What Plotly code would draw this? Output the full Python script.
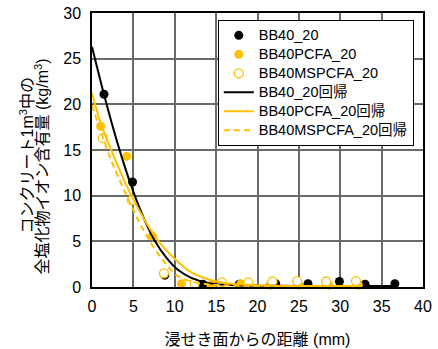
import plotly.graph_objects as go

# ---- data ----
bb40_x = [1.45, 4.9, 8.8, 13.4, 17.8, 22.2, 26.1, 29.9, 33.0, 36.6]
bb40_y = [21.1, 11.5, 1.3, 0.3, 0.3, 0.35, 0.35, 0.6, 0.3, 0.35]

pcfa_x = [1.05, 4.2, 7.3, 10.8, 14.4, 18.0, 21.5, 25.0, 28.6, 32.2]
pcfa_y = [17.6, 14.3, 5.6, 0.35, 0.2, 0.35, 0.2, 0.2, 0.2, 0.2]

mspcfa_x = [1.3, 4.8, 8.7, 12.4, 15.7, 18.9, 21.8, 24.8, 28.3, 31.9]
mspcfa_y = [16.3, 9.5, 1.5, 0.4, 0.5, 0.5, 0.6, 0.65, 0.6, 0.65]

# regression curves
bb40_fit_x = [0, 1.5, 3, 4.5, 6, 7.5, 9, 10.5, 12, 14, 16, 20, 25, 30, 36.6]
bb40_fit_y = [26.3, 20.9, 16.0, 11.7, 8.1, 5.2, 3.2, 1.8, 1.0, 0.45, 0.25, 0.15, 0.12, 0.12, 0.12]

pcfa_fit_x = [0, 1, 2.5, 4.6, 6, 7.4, 8.5, 10, 11.8, 14, 16, 18, 22, 27, 32.7]
pcfa_fit_y = [21.2, 18.1, 14.6, 10.3, 7.9, 5.8, 4.5, 3.1, 1.7, 0.85, 0.45, 0.28, 0.15, 0.12, 0.12]

mspcfa_fit_x = [0, 1.3, 2.7, 4.25, 5.6, 7.0, 8.5, 10.2, 12, 14, 17, 22, 27, 32.7]
mspcfa_fit_y = [19.9, 16.4, 13.0, 9.9, 7.3, 5.0, 3.0, 1.3, 0.6, 0.3, 0.15, 0.1, 0.1, 0.1]

names = ["BB40_20", "BB40PCFA_20", "BB40MSPCFA_20",
         "BB40_20回帰", "BB40PCFA_20回帰", "BB40MSPCFA_20回帰"]

x_ticks = [0, 5, 10, 15, 20, 25, 30, 35, 40]
y_ticks = [0, 5, 10, 15, 20, 25, 30]

BLACK = "#000000"
GOLD = "#FFC000"
FONT = "Liberation Sans, Arial, Noto Sans CJK JP, sans-serif"


def leg(name):
    return '<span style="font-size:14.5px">' + name + '</span>'


fig = go.Figure()

fig.add_trace(go.Scatter(x=bb40_x, y=bb40_y, mode="markers", name=leg(names[0]),
                         marker=dict(color=BLACK, size=9), cliponaxis=False))
fig.add_trace(go.Scatter(x=pcfa_x, y=pcfa_y, mode="markers", name=leg(names[1]),
                         marker=dict(color=GOLD, size=9), cliponaxis=False))
fig.add_trace(go.Scatter(x=mspcfa_x, y=mspcfa_y, mode="markers", name=leg(names[2]),
                         marker=dict(color="white", size=9, line=dict(color=GOLD, width=1.3)),
                         cliponaxis=False))
fig.add_trace(go.Scatter(x=bb40_fit_x, y=bb40_fit_y, mode="lines", name=leg(names[3]),
                         line=dict(color=BLACK, width=2, shape="spline", smoothing=0.8)))
fig.add_trace(go.Scatter(x=pcfa_fit_x, y=pcfa_fit_y, mode="lines", name=leg(names[4]),
                         line=dict(color=GOLD, width=2, shape="spline", smoothing=0.8)))
fig.add_trace(go.Scatter(x=mspcfa_fit_x, y=mspcfa_fit_y, mode="lines", name=leg(names[5]),
                         line=dict(color=GOLD, width=2, dash="6px,4px", shape="spline", smoothing=0.8)))

L, R, T, B = 92, 15, 13, 62
W, H = 438, 349
pw = W - L - R

fig.update_layout(
    width=W, height=H,
    margin=dict(l=L, r=R, t=T, b=B, autoexpand=False),
    paper_bgcolor="white", plot_bgcolor="white",
    font=dict(family=FONT, size=15, color="#000000"),
    showlegend=True,
    legend=dict(x=0.38, y=0.975, xanchor="left", yanchor="top",
                bgcolor="white", bordercolor="#000000", borderwidth=1,
                font=dict(size=12, family=FONT), tracegroupgap=0,
                itemwidth=30),
    xaxis=dict(range=[0, 40], tickvals=x_ticks, ticktext=[str(v) for v in x_ticks],
               showgrid=True, gridcolor="#6a6a6a", gridwidth=1.5,
               showline=True, linecolor="#000000", linewidth=1.5, mirror=True,
               ticks="", zeroline=False, tickfont=dict(size=16), ticklabelstandoff=4,
               automargin=False,
               title=dict(text="浸せき面からの距離 (mm)", font=dict(size=16), standoff=20)),
    yaxis=dict(range=[0, 30], tickvals=y_ticks, ticktext=[str(v) for v in y_ticks],
               showgrid=True, gridcolor="#6a6a6a", gridwidth=1.5,
               showline=True, linecolor="#000000", linewidth=1.5, mirror=True,
               ticks="", zeroline=False, tickfont=dict(size=16), ticklabelstandoff=6,
               automargin=False),
)

# two-line y-axis title as rotated annotations
fig.add_annotation(text="コンクリート1m<sup>3</sup>中の", xref="paper", yref="paper",
                   x=(27 - L) / pw, y=0.48, textangle=-90, showarrow=False,
                   xanchor="center", yanchor="middle", font=dict(size=16))
fig.add_annotation(text="全塩化物イオン含有量 (kg/m<sup>3</sup>)", xref="paper", yref="paper",
                   x=(42 - L) / pw, y=0.44, textangle=-90, showarrow=False,
                   xanchor="center", yanchor="middle", font=dict(size=16))

fig.write_html("out.html", config={"displayModeBar": False},
               post_script="document.body.style.margin='0px';")
